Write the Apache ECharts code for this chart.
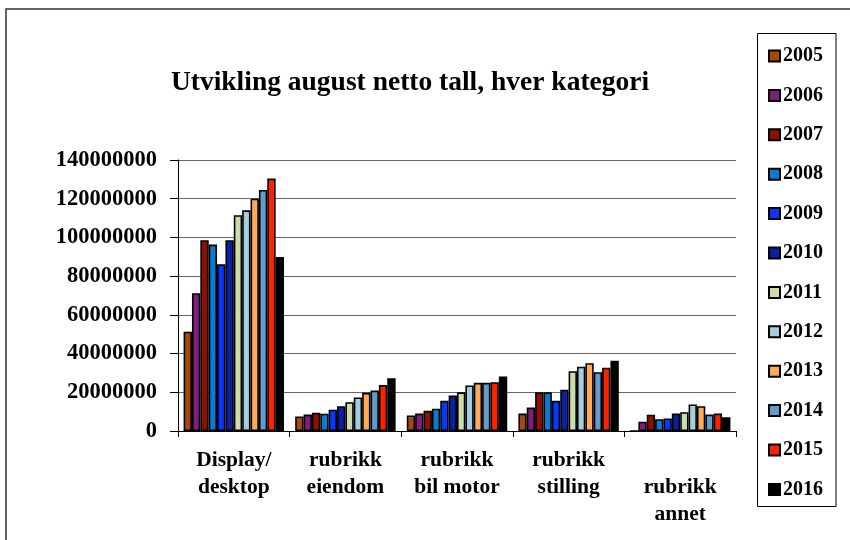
<!DOCTYPE html>
<html>
<head>
<meta charset="utf-8">
<script src="https://cdn.jsdelivr.net/npm/echarts@6/dist/echarts.min.js"></script>
<style>html,body{margin:0;padding:0;background:#fff;}#c{width:850px;height:540px;}</style>
</head>
<body>
<div id="c"></div>
<script>
const categories = ['Display/\ndesktop', 'rubrikk\neiendom', 'rubrikk\nbil motor', 'rubrikk\nstilling', 'rubrikk\nannet'];
const years = ['2005','2006','2007','2008','2009','2010','2011','2012','2013','2014','2015','2016'];
const colors = ['#A8480A','#7E1E7E','#8E1000','#0A7AD2','#0A36FF','#0A20A0','#CCDCAA','#A2CEDE','#FFAA5A','#6699CC','#FF2200','#000000'];
// values per year, order matches categories
const v2005 = [51300000, 7500000, 8000000, 9000000, 0];
const v2006 = [71200000, 8500000, 9000000, 12100000, 4800000];
const v2007 = [98600000, 9400000, 10400000, 20000000, 8400000];
const v2008 = [96300000, 8900000, 11500000, 20000000, 6100000];
const v2009 = [86100000, 11000000, 15600000, 15600000, 6500000];
const v2010 = [98600000, 12800000, 18300000, 21300000, 9000000];
const v2011 = [111500000, 14900000, 20000000, 30900000, 9700000];
const v2012 = [114000000, 17300000, 23500000, 33200000, 13700000];
const v2013 = [120000000, 19700000, 24900000, 35000000, 12800000];
const v2014 = [124500000, 20900000, 24900000, 30400000, 8500000];
const v2015 = [130400000, 23700000, 25200000, 32700000, 9000000];
const v2016 = [89900000, 27300000, 28200000, 36300000, 7100000];
const values = [v2005,v2006,v2007,v2008,v2009,v2010,v2011,v2012,v2013,v2014,v2015,v2016];
const yTicks = {min: 0, max: 140000000, interval: 20000000};

const FONT = '"Liberation Serif", "Times New Roman", serif';
const chart = echarts.init(document.getElementById('c'), null, {renderer: 'canvas'});
chart.setOption({
  animation: false,
  backgroundColor: '#fff',
  title: {
    text: 'Utvikling august netto tall, hver kategori',
    left: 405, top: 64, textAlign: 'center',
    textStyle: {fontFamily: FONT, fontWeight: 'bold', fontSize: 27.5, color: '#000'}
  },
  graphic: [
    {type: 'rect', shape: {x: 6, y: 9, width: 900, height: 600}, style: {fill: 'none', stroke: '#333', lineWidth: 1.5}, silent: true},
    {type: 'rect', shape: {x: 757.5, y: 33.5, width: 78.5, height: 473}, style: {fill: 'none', stroke: '#000', lineWidth: 1}, silent: true}
  ],
  legend: {
    orient: 'vertical',
    left: 768, top: 46,
    padding: 0,
    itemWidth: 11, itemHeight: 11, itemGap: 19.4,
    icon: 'rect',
    textStyle: {fontFamily: FONT, fontWeight: 'bold', fontSize: 20, lineHeight: 20, color: '#000', padding: [0,0,0,-2]},
    data: years
  },
  grid: {left: 178, right: 114, top: 160, bottom: 109, containLabel: false, outerBoundsMode: 'none'},
  xAxis: {
    type: 'category',
    data: categories.map((c, i) => i === 4 ? {value: c, textStyle: {padding: [27, 0, 0, 0]}} : c),
    axisLine: {lineStyle: {color: '#000', width: 1}},
    axisTick: {show: true, length: 6, lineStyle: {color: '#000'}},
    axisLabel: {fontFamily: FONT, fontWeight: 'bold', fontSize: 21.5, lineHeight: 27, color: '#000', margin: 16, interval: 0, hideOverlap: false}
  },
  yAxis: {
    type: 'value',
    min: yTicks.min, max: yTicks.max, interval: yTicks.interval,
    axisLine: {show: true, lineStyle: {color: '#000', width: 1}},
    axisTick: {show: true, length: 8, lineStyle: {color: '#000'}},
    splitLine: {lineStyle: {color: '#666', width: 1}},
    axisLabel: {fontFamily: FONT, fontWeight: 'bold', fontSize: 22.5, color: '#000', margin: 21, formatter: v => String(v)}
  },
  series: years.map((y, i) => ({
    name: y,
    type: 'bar',
    data: values[i],
    barGap: '0%',
    barCategoryGap: '10%',
    itemStyle: {color: colors[i], borderColor: '#000', borderWidth: 1.6}
  }))
});
</script>
</body>
</html>
